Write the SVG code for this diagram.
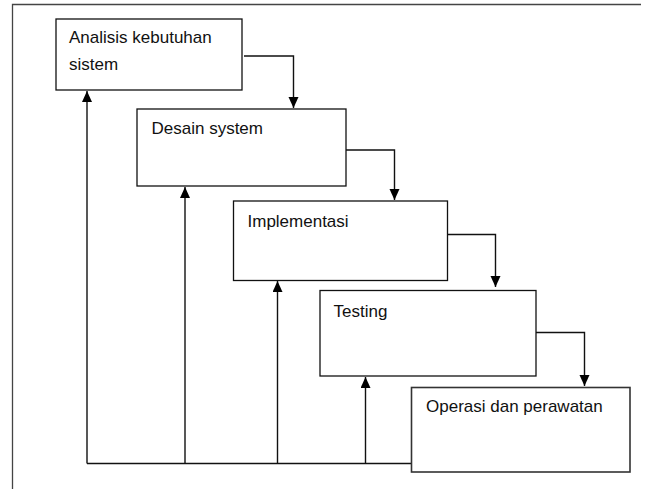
<svg xmlns="http://www.w3.org/2000/svg" width="645" height="489" viewBox="0 0 645 489">
<style>
.box{fill:#fff;stroke:#111;stroke-width:1.3}
.lbl{font-family:"Liberation Sans",Arial,sans-serif;font-size:17px;fill:#111}
.con{fill:none;stroke:#111;stroke-width:1.4}
.frame{fill:none;stroke:#444;stroke-width:1.3}
</style>
<defs>
<marker id="ah" markerUnits="userSpaceOnUse" markerWidth="11" markerHeight="11" refX="11" refY="5" orient="auto">
<path d="M0,0 L11,5 L0,10 Z" fill="#000"/>
</marker>
</defs>
<path class="frame" d="M12.5,489 L12.5,4.5 L641,4.5"/>
<g id="connectors">
<path class="con" d="M244,56 L293.5,56 L293.5,108" marker-end="url(#ah)"/>
<path class="con" d="M346,150 L394.5,150 L394.5,200" marker-end="url(#ah)"/>
<path class="con" d="M447,234.5 L495.5,234.5 L495.5,287" marker-end="url(#ah)"/>
<path class="con" d="M536,332.5 L584.5,332.5 L584.5,386" marker-end="url(#ah)"/>
<path class="con" d="M411.5,463.5 L87,463.5"/>
<path class="con" d="M87,463.5 L87,91" marker-end="url(#ah)"/>
<path class="con" d="M185,463.5 L185,187" marker-end="url(#ah)"/>
<path class="con" d="M277.5,463.5 L277.5,281" marker-end="url(#ah)"/>
<path class="con" d="M365.5,463.5 L365.5,377" marker-end="url(#ah)"/>
</g>
<g id="analisis">
<rect class="box" x="56" y="19" width="186" height="71"/>
<text class="lbl" x="69" y="43">Analisis kebutuhan</text>
<text class="lbl" x="69" y="70">sistem</text>
</g>
<g id="desain">
<rect class="box" x="137" y="109" width="209" height="77"/>
<text class="lbl" x="151.5" y="133.5">Desain system</text>
</g>
<g id="implementasi">
<rect class="box" x="233.5" y="201" width="214" height="79.5"/>
<text class="lbl" x="247.5" y="227">Implementasi</text>
</g>
<g id="testing">
<rect class="box" x="320" y="290.5" width="216" height="85.5"/>
<text class="lbl" x="333.5" y="316.5">Testing</text>
</g>
<g id="operasi">
<rect class="box" x="411.5" y="387.5" width="218.5" height="84.5" style="stroke:#333;stroke-width:1.6"/>
<text class="lbl" x="426" y="412">Operasi dan perawatan</text>
</g>
</svg>
